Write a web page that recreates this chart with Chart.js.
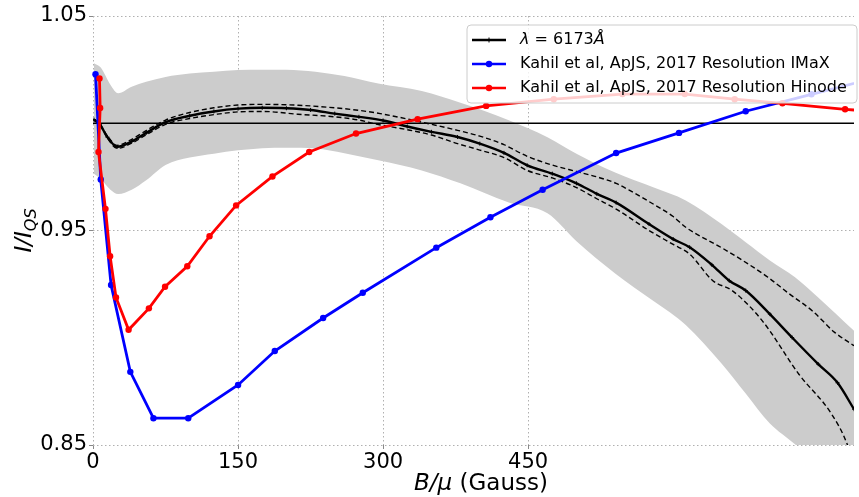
<!DOCTYPE html>
<html>
<head>
<meta charset="utf-8">
<title>I/IQS vs B/mu</title>
<script src="https://cdn.jsdelivr.net/npm/chart.js@4.4.0/dist/chart.umd.min.js"></script>
<style>
  html, body { margin: 0; padding: 0; background: #fff; }
</style>
</head>
<body>
<canvas id="myChart" width="859" height="497"></canvas>
<script>
// ---- data ----
var seriesNames = ['6173', 'Kahil et al, ApJS, 2017 Resolution IMaX', 'Kahil et al, ApJS, 2017 Resolution Hinode'];

var xTicks = [0, 150, 300, 450];
var yTicks = [0.85, 0.95, 1.05];

// Kahil IMaX (blue)
var imaxB = [2.6, 8, 18.7, 38.6, 62.5, 98.5, 150, 188, 238, 279, 355, 411, 465, 541, 606, 675, 743, 812];
var imaxI = [1.0229, 0.9738, 0.9246, 0.8841, 0.8625, 0.8625, 0.878, 0.8938, 0.9092, 0.921, 0.942, 0.9562, 0.969, 0.9861, 0.9955, 1.0056, 1.0135, 1.0215];

// Kahil Hinode (red)
var hinodeB = [6.7, 7.4, 5.7, 12.9, 17.7, 23.8, 36.8, 57.8, 74.5, 97.5, 120.5, 148, 185.6, 223.6, 272, 335.7, 406.6, 476.5, 547.5, 612, 663.6, 713, 777.8, 850];
var hinodeI = [1.0209, 1.0071, 0.9866, 0.9601, 0.938, 0.9188, 0.9037, 0.9137, 0.9238, 0.9333, 0.9473, 0.9617, 0.9752, 0.9866, 0.9952, 1.0019, 1.0081, 1.0112, 1.0136, 1.0136, 1.0112, 1.0093, 1.0065, 1.004];

// lambda = 6173 mean curve
var meanB = [1, 7, 15, 25, 40, 55, 75, 100, 125, 150, 175, 200, 225, 250, 275, 300, 325, 350, 377, 400, 425, 449, 475, 500, 521, 541, 575, 600, 617, 640, 658, 675, 700, 723, 750, 770, 787];
var meanI = [1.0017, 0.9995, 0.9935, 0.989, 0.9915, 0.9955, 1.0005, 1.0035, 1.0055, 1.0068, 1.0072, 1.007, 1.0062, 1.0045, 1.003, 1.0013, 0.9985, 0.996, 0.9936, 0.9905, 0.9862, 0.9804, 0.9765, 0.972, 0.9671, 0.963, 0.953, 0.946, 0.9422, 0.934, 0.9266, 0.922, 0.911, 0.9001, 0.8877, 0.879, 0.8667];

// dashed curves
var upB = [1, 7, 15, 25, 40, 55, 75, 100, 125, 150, 175, 212, 250, 275, 297, 325, 350, 377, 400, 425, 449, 475, 500, 521, 541, 555, 575, 600, 613, 650, 672, 698, 720, 744, 767, 787];
var upI = [1.0018, 0.9997, 0.994, 0.9897, 0.9925, 0.9966, 1.0015, 1.005, 1.0072, 1.0085, 1.0088, 1.0084, 1.0072, 1.006, 1.0045, 1.002, 0.9995, 0.9967, 0.994, 0.99, 0.9846, 0.9805, 0.9775, 0.975, 0.972, 0.9687, 0.9635, 0.9565, 0.9515, 0.942, 0.936, 0.9282, 0.9205, 0.9125, 0.9025, 0.8963];
var loB = [1, 7, 15, 25, 40, 55, 75, 100, 125, 150, 175, 212, 250, 275, 294, 325, 350, 377, 400, 425, 449, 475, 500, 521, 541, 575, 600, 617, 641, 661, 692, 730, 764, 780, 800];
var loI = [1.0015, 0.9993, 0.993, 0.9883, 0.9907, 0.9946, 0.9995, 1.0022, 1.004, 1.0053, 1.0055, 1.0042, 1.003, 1.0015, 0.9995, 0.997, 0.9945, 0.9905, 0.9875, 0.984, 0.978, 0.9745, 0.97, 0.9648, 0.96, 0.95, 0.9435, 0.939, 0.9266, 0.922, 0.908, 0.883, 0.8643, 0.8503, 0.82];

// grey spread band
var bandB = [1, 8, 18, 26, 40, 55, 75, 100, 125, 150, 175, 200, 230, 260, 295, 340, 380, 430, 470, 500, 540, 580, 613, 650, 675, 700, 726, 750, 787];
var bandHi = [1.028, 1.026, 1.018, 1.014, 1.017, 1.0193, 1.0216, 1.0232, 1.024, 1.0248, 1.025, 1.025, 1.024, 1.022, 1.0185, 1.015, 1.0095, 1.0014, 0.9935, 0.9858, 0.977, 0.97, 0.964, 0.953, 0.9445, 0.936, 0.9282, 0.9188, 0.9033];
var bandLo = [0.9765, 0.974, 0.969, 0.967, 0.969, 0.9734, 0.9805, 0.984, 0.9858, 0.9874, 0.9884, 0.9886, 0.9882, 0.986, 0.9827, 0.978, 0.972, 0.963, 0.958, 0.945, 0.93, 0.917, 0.906, 0.888, 0.874, 0.86, 0.8503, 0.84, 0.825];

var refB = [0, 787];
var refI = [1.0, 1.0];

function pts(xs, ys) {
    var out = [];
    for (var i = 0; i < xs.length; i++) {
        out.push({x: xs[i], y: ys[i]});
    }
    return out;
}

var FONT = "'DejaVu Sans', sans-serif";
var seriesClip = {left: 6, top: 6, right: 0, bottom: 0};

var dataSource = {
    datasets: [
        {   // red on top
            data: pts(hinodeB, hinodeI),
            borderColor: '#ff0000', backgroundColor: '#ff0000',
            borderWidth: 2.8, pointRadius: 3.2, pointBorderWidth: 0,
            fill: false, clip: seriesClip
        },
        {
            data: pts(imaxB, imaxI),
            borderColor: '#0000ff', backgroundColor: '#0000ff',
            borderWidth: 2.8, pointRadius: 3.2, pointBorderWidth: 0,
            fill: false, clip: seriesClip
        },
        {
            data: pts(meanB, meanI),
            borderColor: '#000000', backgroundColor: '#000000',
            borderWidth: 2.4, pointRadius: 2, pointStyle: 'cross', pointBorderWidth: 1,
            cubicInterpolationMode: 'monotone', fill: false
        },
        {
            data: pts(upB, upI),
            borderColor: '#000000', borderWidth: 1.4, borderDash: [5, 3],
            cubicInterpolationMode: 'monotone', pointRadius: 0, fill: false
        },
        {
            data: pts(loB, loI),
            borderColor: '#000000', borderWidth: 1.4, borderDash: [5, 3],
            cubicInterpolationMode: 'monotone', pointRadius: 0, fill: false
        },
        {
            data: pts(refB, refI),
            borderColor: '#000000', borderWidth: 1.3,
            pointRadius: 0, fill: false
        },
        {
            data: pts(bandB, bandHi),
            borderColor: 'rgba(0,0,0,0)', borderWidth: 0,
            backgroundColor: '#cccccc', pointRadius: 0,
            cubicInterpolationMode: 'monotone', fill: '+1'
        },
        {
            data: pts(bandB, bandLo),
            borderColor: 'rgba(0,0,0,0)', borderWidth: 0,
            cubicInterpolationMode: 'monotone', pointRadius: 0, fill: false
        }
    ]
};

// draws a run of [text, italic, size, dy] pieces left to right
function drawPieces(ctx, x, y, pieces) {
    for (var i = 0; i < pieces.length; i++) {
        var p = pieces[i];
        ctx.font = (p[1] ? 'italic ' : '') + p[2] + 'px ' + FONT;
        ctx.fillText(p[0], x, y + (p[3] || 0));
        x += ctx.measureText(p[0]).width;
    }
    return x;
}

function piecesWidth(ctx, pieces) {
    var w = 0;
    for (var i = 0; i < pieces.length; i++) {
        var p = pieces[i];
        ctx.font = (p[1] ? 'italic ' : '') + p[2] + 'px ' + FONT;
        w += ctx.measureText(p[0]).width;
    }
    return w;
}

var extras = {
    id: 'extras',
    afterDraw: function (chart) {
        var ctx = chart.ctx;
        var area = chart.chartArea;
        ctx.save();
        ctx.fillStyle = '#000';
        ctx.textBaseline = 'alphabetic';

        // x title
        var xt = [['B/\u03bc', true, 23], [' (Gauss)', false, 23]];
        var w = piecesWidth(ctx, xt);
        drawPieces(ctx, 481 - w / 2, 490, xt);

        // y title, rotated
        var yt = [['I/I', true, 23], ['QS', true, 16, 5]];
        w = piecesWidth(ctx, yt);
        ctx.save();
        ctx.translate(31, (area.top + area.bottom) / 2);
        ctx.rotate(-Math.PI / 2);
        drawPieces(ctx, -w / 2, 0, yt);
        ctx.restore();

        // legend box
        var bx = 467, by = 25, bw = 390, bh = 78, r = 4;
        ctx.beginPath();
        ctx.moveTo(bx + r, by);
        ctx.lineTo(bx + bw - r, by);
        ctx.arcTo(bx + bw, by, bx + bw, by + r, r);
        ctx.lineTo(bx + bw, by + bh - r);
        ctx.arcTo(bx + bw, by + bh, bx + bw - r, by + bh, r);
        ctx.lineTo(bx + r, by + bh);
        ctx.arcTo(bx, by + bh, bx, by + bh - r, r);
        ctx.lineTo(bx, by + r);
        ctx.arcTo(bx, by, bx + r, by, r);
        ctx.closePath();
        ctx.fillStyle = 'rgba(255,255,255,0.8)';
        ctx.fill();
        ctx.strokeStyle = '#cccccc';
        ctx.lineWidth = 1;
        ctx.stroke();

        var rows = [
            {color: '#000000', cross: true, y: 40},
            {color: '#0000ff', cross: false, y: 64},
            {color: '#ff0000', cross: false, y: 88}
        ];
        for (var i = 0; i < rows.length; i++) {
            var row = rows[i];
            ctx.strokeStyle = row.color;
            ctx.fillStyle = row.color;
            ctx.lineWidth = 2.6;
            ctx.beginPath();
            ctx.moveTo(472, row.y);
            ctx.lineTo(506, row.y);
            ctx.stroke();
            if (row.cross) {
                ctx.lineWidth = 1;
                ctx.beginPath();
                ctx.moveTo(489, row.y - 2.5);
                ctx.lineTo(489, row.y + 2.5);
                ctx.stroke();
            } else {
                ctx.beginPath();
                ctx.arc(489, row.y, 3.2, 0, Math.PI * 2);
                ctx.fill();
            }
            ctx.fillStyle = '#000';
            ctx.textBaseline = 'middle';
            if (i === 0) {
                drawPieces(ctx, 520, row.y, [['\u03bb', true, 16], [' = ' + seriesNames[0], false, 16], ['\u00c5', true, 16]]);
            } else {
                drawPieces(ctx, 520, row.y, [[seriesNames[i], false, 16]]);
            }
        }
        ctx.restore();
    }
};

function createChart() {
    var ctx = document.getElementById('myChart').getContext('2d');
    var myChart = new Chart(ctx, {
        type: 'line',
        data: dataSource,
        plugins: [extras],
        options: {
            responsive: false,
            animation: false,
            devicePixelRatio: 1,
            layout: { padding: { top: 16, right: 0, bottom: 0, left: 0 } },
            plugins: {
                legend: { display: false },
                tooltip: { enabled: false }
            },
            scales: {
                x: {
                    type: 'linear',
                    min: 0,
                    max: 787,
                    afterBuildTicks: function (scale) {
                        scale.ticks = xTicks.map(function (v) { return {value: v}; });
                    },
                    afterFit: function (scale) { scale.height = 52; },
                    ticks: {
                        font: { family: FONT, size: 21 },
                        color: '#000',
                        padding: 1,
                        maxRotation: 0,
                        autoSkip: false,
                        callback: function (v) { return String(v); }
                    },
                    grid: { color: '#b0b0b0', lineWidth: 1, tickLength: 4, tickColor: '#888' },
                    border: { display: false, dash: [1.5, 2.5] }
                },
                y: {
                    type: 'linear',
                    min: 0.85,
                    max: 1.05,
                    afterBuildTicks: function (scale) {
                        scale.ticks = yTicks.map(function (v) { return {value: v}; });
                    },
                    afterFit: function (scale) { scale.width = 93; },
                    ticks: {
                        font: { family: FONT, size: 21 },
                        color: '#000',
                        padding: 2,
                        callback: function (v) { return Number(v).toFixed(2); }
                    },
                    grid: { color: '#b0b0b0', lineWidth: 1, tickLength: 4, tickColor: '#888' },
                    border: { display: false, dash: [1.5, 2.5] }
                }
            }
        }
    });
}
createChart();
</script>
</body>
</html>
